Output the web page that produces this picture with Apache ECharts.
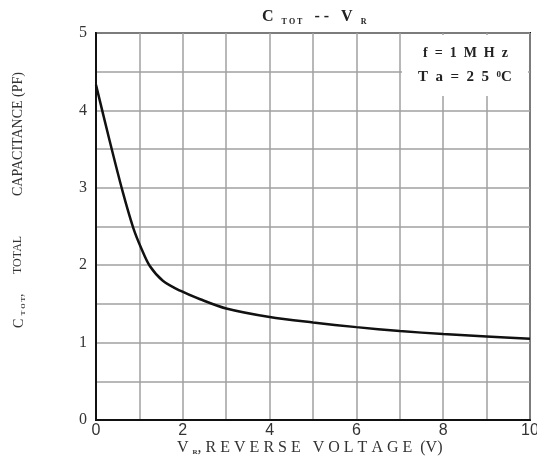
<!DOCTYPE html>
<html>
<head>
<meta charset="utf-8">
<script src="https://cdn.jsdelivr.net/npm/echarts@6/dist/echarts.min.js"></script>
<style>html,body{margin:0;padding:0;background:#fff;overflow:hidden;}#c{width:537px;height:465px;}</style>
</head>
<body>
<div id="c"></div>
<script>
var voltage = [0, 0.3, 0.61, 0.86, 1.05, 1.24, 1.54, 1.94, 2.4, 3, 4, 5, 6, 7, 8, 9, 10];
var capacitance = [4.33, 3.64, 2.96, 2.48, 2.21, 1.99, 1.80, 1.67, 1.56, 1.44, 1.33, 1.26, 1.20, 1.15, 1.11, 1.08, 1.05];
var xTicks = [0, 2, 4, 6, 8, 10];
var yTicks = [0, 1, 2, 3, 4, 5];

var points = voltage.map(function (v, i) { return [v, capacitance[i]]; });
var serif = '"Liberation Serif", "DejaVu Serif", serif';
var sans = '"Liberation Sans", Arial, sans-serif';

var chart = echarts.init(document.getElementById('c'));
chart.setOption({
  animation: false,
  backgroundColor: '#fff',
  grid: { left: 96, right: 7, top: 33, bottom: 45, outerBoundsMode: 'none', containLabel: false,
    show: true, borderColor: '#111', borderWidth: 2, backgroundColor: 'transparent' },
  xAxis: {
    type: 'value', min: 0, max: 10, interval: 1,
    axisLine: { show: true, onZero: false, lineStyle: { color: '#111', width: 2 } },
    axisTick: { show: false },
    splitLine: { show: true, lineStyle: { color: '#a0a0a0', width: 1.5 } },
    axisLabel: {
      color: '#333', fontFamily: sans, fontSize: 16, margin: 3,
      formatter: function (v) { return xTicks.indexOf(v) >= 0 ? String(v) : ''; }
    }
  },
  yAxis: {
    type: 'value', min: 0, max: 5, interval: 0.5,
    axisLine: { show: true, lineStyle: { color: '#111', width: 2 } },
    axisTick: { show: false },
    splitLine: { show: true, lineStyle: { color: '#a0a0a0', width: 1.5 } },
    axisLabel: {
      color: '#333', fontFamily: serif, fontSize: 16, margin: 9,
      formatter: function (v) { return yTicks.indexOf(v) >= 0 ? String(v) : ''; }
    }
  },
  series: [{
    type: 'line', data: points, smooth: 0.3, showSymbol: false,
    lineStyle: { color: '#111', width: 2.5 }, z: 5
  }],
  graphic: [
    { type: 'rect', shape: { x: 402, y: 35, width: 126, height: 61 }, style: { fill: '#fff' }, z: 8 },
    { type: 'text', x: 423, y: 46, z: 9,
      style: { text: 'f  =  1  M  H  z', font: 'bold 14px ' + serif, fill: '#222' } },
    { type: 'text', x: 418, y: 70, z: 9,
      style: { text: 'T  a  =  2  5  {sup|0}C', font: 'bold 15px ' + serif, fill: '#222',
        rich: { sup: { font: 'bold 9px ' + serif, fill: '#222', padding: [0, 0, 6, 0] } } } },
    { type: 'text', x: 262, y: 8, z: 9,
      style: { text: 'C  {s|T O T}   - -   V  {s|R}', font: 'bold 16px ' + serif, fill: '#222',
        rich: { s: { font: 'bold 8px ' + serif, fill: '#222', padding: [10, 0, 0, 0] } } } },
    { type: 'text', x: 177, y: 439, z: 9,
      style: { text: 'V {s|R}, R E V E R S E   V O L T A G E  (V)', font: '16px ' + serif, fill: '#333',
        rich: { s: { font: 'bold 7px ' + serif, fill: '#333', padding: [10, 0, 0, 0] } } } },
    { type: 'text', x: 11, y: 328, rotation: Math.PI / 2, z: 9,
      style: { text: 'C {s|T O T},', font: '14px ' + serif, fill: '#333',
        rich: { s: { font: 'bold 7px ' + serif, fill: '#333', padding: [9, 0, 0, 0] } } } },
    { type: 'text', x: 12, y: 274, rotation: Math.PI / 2, z: 9,
      style: { text: 'TOTAL', font: '12px ' + serif, fill: '#333' } },
    { type: 'text', x: 11, y: 196, rotation: Math.PI / 2, z: 9,
      style: { text: 'CAPACITANCE (PF)', font: '14px ' + serif, fill: '#333' } }
  ]
});
</script>
</body>
</html>
